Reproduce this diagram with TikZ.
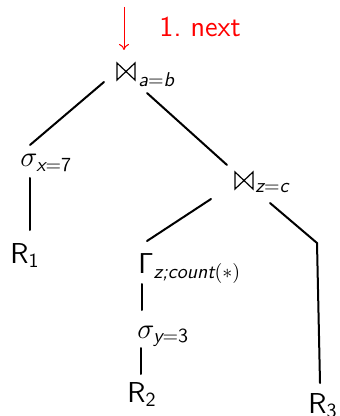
\documentclass[tikz,border=0pt]{standalone}
\usepackage{amsmath}
\usetikzlibrary{arrows.meta}
\tikzset{
  lbl/.style={inner sep=0pt, anchor=base west, font=\Large\sffamily},
  sublbl/.style={inner sep=0pt, anchor=base west, font=\normalsize\sffamily},
  edge/.style={line width=1pt, line cap=round},
  note/.style={red},
  bowtie/.pic={\draw[line width=0.6pt, line join=miter] (0,0) -- (0,17) -- (18,0) -- (18,17) -- cycle;},
}
\newcommand{\sub}[1]{\textsf{\itshape #1}}
\newcommand{\sfn}[1]{\textsf{#1}}
\begin{document}
\begin{tikzpicture}[x=0.5pt,y=-0.5pt]
\useasboundingbox (0,0) rectangle (339,416);
% nodes
\pic at (117,63) {bowtie};
\node[sublbl] (join1) at (138,87) {$\sub{a}{=}\sub{b}$};
\node[lbl] (sel1) at (20,167) {$\sigma_{\sub{x}=\sfn{7}}$};
\node[lbl] (r1) at (10,263) {R$_{\sfn{1}}$};
\pic at (235,172) {bowtie};
\node[sublbl] (join2) at (255,193) {$\sub{z}{=}\sub{c}$};
\node[lbl] (grp) at (138,273) {$\mathsf{\Gamma}_{\sub{z;count}(*)}$};
\node[lbl] (sel2) at (137,338) {$\sigma_{\sub{y}=\sfn{3}}$};
\node[lbl] (r2) at (127,402) {R$_{\sfn{2}}$};
\node[lbl] (r3) at (308,413) {R$_{\sfn{3}}$};
\node[lbl, note] (next) at (159,37) {1.\ next};
% connector ends
\coordinate (arrtop) at (124,7);
\coordinate (arrbot) at (124,50);
\coordinate (j1l) at (104,82);
\coordinate (s1t) at (30,145);
\coordinate (j1r) at (147,93);
\coordinate (j2t) at (227,165);
\coordinate (s1b) at (30,178);
\coordinate (r1t) at (30,230);
\coordinate (j2l) at (211,199);
\coordinate (gt) at (147,241);
\coordinate (j2r) at (270,203);
\coordinate (bend) at (317,243);
\coordinate (r3t) at (320,383);
\coordinate (gb) at (142,284);
\coordinate (s2t) at (142,310);
\coordinate (s2b) at (141,348);
\coordinate (r2t) at (141,374);
% connectors
\draw[note, line width=0.5pt, -{To[length=3pt,width=5pt]}] (arrtop) -- (arrbot);
\draw[edge] (j1l) -- (s1t);
\draw[edge] (j1r) -- (j2t);
\draw[edge] (s1b) -- (r1t);
\draw[edge] (j2l) -- (gt);
\draw[edge] (j2r) -- (bend) -- (r3t);
\draw[edge] (gb) -- (s2t);
\draw[edge] (s2b) -- (r2t);
\end{tikzpicture}
\end{document}
